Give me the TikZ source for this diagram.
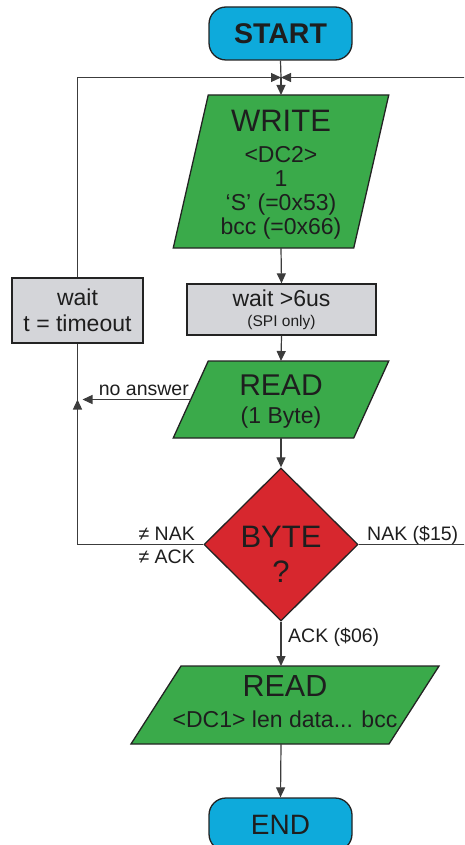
\documentclass[tikz,border=0pt]{standalone}
\usepackage{fontspec}
\setmainfont{Liberation Sans}
\usetikzlibrary{arrows.meta,shapes.geometric,calc}
\definecolor{cyanfill}{RGB}{14,170,219}
\definecolor{greenfill}{RGB}{58,170,74}
\definecolor{redfill}{RGB}{215,39,46}
\definecolor{grayfill}{RGB}{212,213,217}
\definecolor{edgecol}{RGB}{35,35,35}
\definecolor{linecol}{RGB}{60,60,60}
\definecolor{textcol}{RGB}{30,30,30}
\newcommand{\myfs}[2]{\fontsize{#1}{#2}\selectfont}
\newcommand{\parashape}[2]{%
  \filldraw[parafill] ([xshift=#2]#1.north west) -- ([xshift=#2]#1.north east)
    -- ([xshift=-#2]#1.south east) -- ([xshift=-#2]#1.south west) -- cycle;}
\begin{document}
\begin{tikzpicture}[x=1pt,y=-1pt,
  term/.style={draw=edgecol, line width=1.3pt, fill=cyanfill, rounded corners=17pt,
    minimum width=143pt, minimum height=53pt, inner sep=0pt, text=textcol},
  graybox/.style={draw=edgecol, line width=1.3pt, fill=grayfill, inner sep=0pt,
    text=textcol, align=center},
  parabox/.style={draw=none, inner sep=0pt, outer sep=0pt},
  parafill/.style={draw=edgecol, line width=1.3pt, fill=greenfill},
  txt/.style={inner sep=0pt, align=center, text=textcol},
  lab/.style={inner sep=0pt, text=textcol, font=\myfs{19.5}{22}},
  conn/.style={draw=linecol, line width=1.2pt},
  arr/.style={-{Triangle[length=10pt,width=9pt]}}]
\useasboundingbox (0,0) rectangle (464,845);
\clip (0,0) rectangle (464,845);

% shapes
\node[term, font=\bfseries\myfs{28.5}{30}] (start) at (280.5,33.5) {START};
\coordinate (j1) at (281,77.5);

\node[parabox, minimum width=180.5pt, minimum height=153pt] (write) at (281,171.5) {};
\parashape{write}{17.5pt}
\node[txt, font=\myfs{23}{24}] (writetxt) at ([yshift=-3.5pt]write.center)
  {{\myfs{31}{24}WRITE}\\[7pt]<DC2>\\1\\‘S’ (=0x53)\\bcc (=0x66)};

\node[graybox, minimum width=189pt, minimum height=51pt, font=\myfs{23}{20}] (wait6) at (281.5,309.5)
  {wait >6us\\{\myfs{15.5}{20}(SPI only)}};

\node[graybox, minimum width=131pt, minimum height=65pt, font=\myfs{23}{26}] (waitT) at (77.5,310.5)
  {wait\\t = timeout};

\node[parabox, minimum width=180.5pt, minimum height=77pt] (read1) at (281,399.5) {};
\parashape{read1}{17.5pt}
\node[txt, font=\myfs{23}{28}] (read1txt) at ([yshift=-2pt]read1.center)
  {{\myfs{30}{28}READ}\\(1 Byte)};

\node[diamond, draw=edgecol, line width=1.3pt, fill=redfill, inner sep=0pt,
  minimum width=154pt, minimum height=153pt] (byte) at (281,544.5) {};
\node[txt, font=\myfs{31}{35}] (bytetxt) at ([yshift=-9.7pt]byte.center) {BYTE\\?};

\node[parabox, minimum width=258pt, minimum height=78pt] (read2) at (285,705) {};
\parashape{read2}{25pt}
\node[txt, font=\myfs{23}{31}] (read2txt) at ([yshift=3.4pt]read2.center)
  {{\myfs{30.5}{31}READ}\\<DC1> len data... bcc};

\node[term, font=\myfs{28}{30}] (end) at (280.5,824.5) {END};

% connectors
\coordinate (rx) at (466,77.5);
\coordinate (j2) at (77.5,399.5);
\draw[conn] (start.south) -- (j1);
\draw[conn,arr] (j1) -- (write.north);
\draw[conn,arr] (waitT.north) |- (j1);
\draw[conn,arr] (byte.east) -| (rx) -- (j1);
\draw[conn,arr] (write.south) -- (wait6.north);
\draw[conn,arr] (wait6.south) -- (read1.north);
\draw[conn,arr] (read1.south) -- (byte.north);
\draw[conn,arr,shorten >=5pt] (read1.west) -- (j2);
\draw[conn,arr] (byte.west) -| (j2);
\draw[conn] (j2) -- (waitT.south);
\draw[conn,arr] (byte.south) -- (byte.south |- read2.north);
\draw[conn,arr] (byte.south |- read2.south) -- (end.north);

% labels
\node[lab, anchor=base east] (lna) at (189,395) {no answer};
\node[lab, anchor=base east] (lnak) at (195,540) {≠ NAK};
\node[lab, anchor=base east] (lnack) at (195,563) {≠ ACK};
\node[lab, anchor=base west] (lnak15) at (367,540) {NAK (\$15)};
\node[lab, anchor=base west] (lack) at (288,642) {ACK (\$06)};
\end{tikzpicture}
\end{document}
